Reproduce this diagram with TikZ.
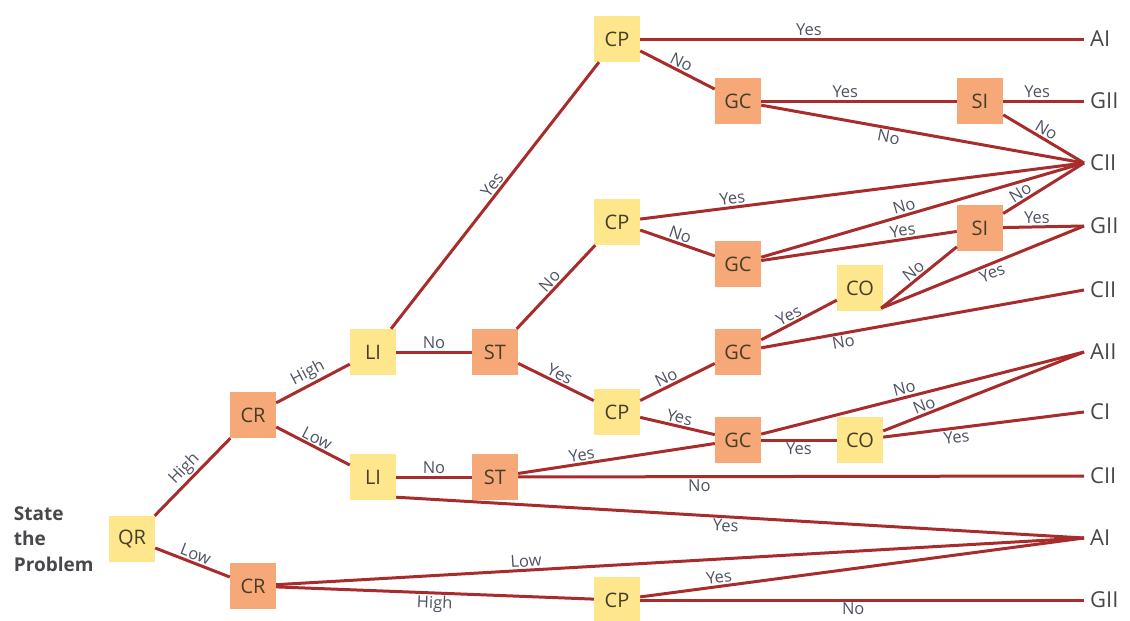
\documentclass[tikz,border=0pt]{standalone}
\usepackage{fontspec}
\setmainfont{Open Sans}
\usepackage{tikz}
\usetikzlibrary{positioning, calc}
\definecolor{treeInk}{RGB}{70,62,40}
\definecolor{treeTag}{RGB}{78,82,98}
\definecolor{treeLine}{RGB}{168,44,44}
\definecolor{treeYellow}{RGB}{253,230,140}
\definecolor{treeOrange}{RGB}{246,168,120}
\definecolor{treeLabel}{RGB}{72,72,76}
\tikzset{
  % square question box; the colour comes from one of the two styles below
  qbox/.style={
    draw=none, minimum width=46pt, minimum height=46pt, inner sep=0pt,
    font=\fontsize{20}{22}\selectfont, text=treeInk
  },
  lightq/.style={qbox, fill=treeYellow},
  darkq/.style={qbox, fill=treeOrange},
  % branches of the tree
  branch/.style={draw=treeLine, line width=3pt},
  % answer written on a branch
  tag/.style={font=\fontsize{16.5}{18}\selectfont, text=treeTag, inner sep=1.5pt, sloped},
  % decision style at the right end
  outcome/.style={font=\fontsize{22}{24}\selectfont, text=treeLabel, inner sep=0pt, anchor=west},
}

\begin{document}
\begin{tikzpicture}[x=1pt, y=-1pt]

\useasboundingbox (0,0) rectangle (1130,621);

% ------------------------------- question boxes ----------------------------
\node[lightq] (QR)  at (132,539) {QR};
\node[darkq]  (CRa) at (253,415) {CR};
\node[darkq]  (CRb) at (253,586) {CR};
\node[lightq] (LIa) at (373,352) {LI};
\node[lightq] (LIb) at (373,477) {LI};
\node[darkq]  (STa) at (495,352) {ST};
\node[darkq]  (STb) at (495,477) {ST};
\node[lightq] (CPa) at (617,39)  {CP};
\node[lightq] (CPb) at (617,222) {CP};
\node[lightq] (CPc) at (617,412) {CP};
\node[lightq] (CPd) at (617,600) {CP};
\node[darkq]  (GCa) at (738,101) {GC};
\node[darkq]  (GCb) at (738,264) {GC};
\node[darkq]  (GCc) at (738,352) {GC};
\node[darkq]  (GCd) at (738,440) {GC};
\node[darkq]  (SIa) at (980,101) {SI};
\node[darkq]  (SIb) at (980,228) {SI};
\node[lightq] (COa) at (860,288) {CO};
\node[lightq] (COb) at (860,440) {CO};

\node[font=\fontsize{19}{25.5}\selectfont\bfseries, text=treeLabel, align=left,
      inner sep=0pt, left=15pt of QR] (start) {State\\the\\Problem};

% ------------------------------- outcomes ----------------------------------
\coordinate (oA) at (1084,39);
\coordinate (oB) at (1084,101);
\coordinate (oC) at (1084,163);
\coordinate (oD) at (1084,226);
\coordinate (oE) at (1084,290);
\coordinate (oF) at (1084,352);
\coordinate (oG) at (1084,412);
\coordinate (oH) at (1084,476);
\coordinate (oI) at (1084,538);
\coordinate (oJ) at (1084,600);
\node[outcome, right=6pt of oA] (tA) {AI};
\node[outcome, right=6pt of oB] (tB) {GII};
\node[outcome, right=6pt of oC] (tC) {CII};
\node[outcome, right=6pt of oD] (tD) {GII};
\node[outcome, right=6pt of oE] (tE) {CII};
\node[outcome, right=6pt of oF] (tF) {AII};
\node[outcome, right=6pt of oG] (tG) {CI};
\node[outcome, right=6pt of oH] (tH) {CII};
\node[outcome, right=6pt of oI] (tI) {AI};
\node[outcome, right=6pt of oJ] (tJ) {GII};

% ------------------------------- left part ---------------------------------
\draw[branch] (QR) -- (CRa) node[tag, midway, above] {High};
\draw[branch] (QR) -- (CRb) node[tag, midway, above] {Low};
\draw[branch] (CRa) -- (LIa) node[tag, midway, above] {High};
\draw[branch] (CRa) -- (LIb) node[tag, midway, above] {Low};
\draw[branch] (LIa) -- (STa) node[tag, midway, above] {No};
\draw[branch] (LIb) -- (STb) node[tag, midway, above] {No};
\draw[branch] (LIa) -- (CPa) node[tag, pos=0.52, above] {Yes};
\draw[branch] (STa) -- (CPb) node[tag, midway, above] {No};
\draw[branch] (STa) -- (CPc) node[tag, midway, above] {Yes};

% ------------------------------- upper branches ----------------------------
\draw[branch] (CPa) -- (oA) node[tag, pos=0.38, above] {Yes};
\draw[branch] (CPa) -- (GCa) node[tag, midway, above] {No};
\draw[branch] (GCa) -- (SIa) node[tag, pos=0.43, above] {Yes};
\draw[branch] (GCa) -- (oC) node[tag, pos=0.4, below] {No};
\draw[branch] (SIa) -- (oB) node[tag, pos=0.42, above] {Yes};
\draw[branch] (SIa) -- (oC) node[tag, pos=0.48, above] {No};

\draw[branch] (CPb) -- (oC) node[tag, pos=0.21, above] {Yes};
\draw[branch] (CPb) -- (GCb) node[tag, midway, above] {No};
\draw[branch] (GCb) -- (oC) node[tag, pos=0.45, above] {No};
\draw[branch] (GCb) -- (SIb) node[tag, pos=0.73, above] {Yes};
\draw[branch] (SIb) -- (oC) node[tag, pos=0.27, above] {No};
\draw[branch] (SIb) -- (oD) node[tag, pos=0.42, above] {Yes};

% ------------------------------- middle branches ---------------------------
\draw[branch] (CPc) -- (GCc) node[tag, pos=0.4, above] {No};
\draw[branch] (CPc) -- (GCd) node[tag, midway, above] {Yes};
\draw[branch] (GCc) -- (COa) node[tag, pos=0.42, above] {Yes};
\draw[branch] (GCc) -- (oE) node[tag, pos=0.25, below] {No};
\draw[branch] ([shift={(-2pt,3pt)}]COa.south east) -- (SIb) node[tag, midway, above] {No};
\draw[branch] ([shift={(-2pt,3pt)}]COa.south east) -- (oD) node[tag, pos=0.53, below] {Yes};

\draw[branch] (GCd) -- (oF) node[tag, pos=0.45, above] {No};
\draw[branch] (GCd) -- (COb) node[tag, midway, below] {Yes};
\draw[branch] (COb) -- (oF) node[tag, pos=0.22, above] {No};
\draw[branch] (COb) -- (oG) node[tag, pos=0.36, below] {Yes};

% ------------------------------- lower branches ----------------------------
\draw[branch] (STb) -- (GCd) node[tag, pos=0.33, above] {Yes};
\draw[branch] (STb) -- (oH) node[tag, pos=0.32, below] {No};
\draw[branch] ([yshift=3pt]LIb.south east) -- (oI) node[tag, pos=0.48, below] {Yes};
\draw[branch] (CRb) -- (oI) node[tag, pos=0.31, above] {Low};
\draw[branch] (CRb) -- (CPd) node[tag, midway, below] {High};
\draw[branch] (CPd) -- (oI) node[tag, pos=0.18, above] {Yes};
\draw[branch] (CPd) -- (oJ) node[tag, pos=0.48, below] {No};

\end{tikzpicture}
\end{document}
